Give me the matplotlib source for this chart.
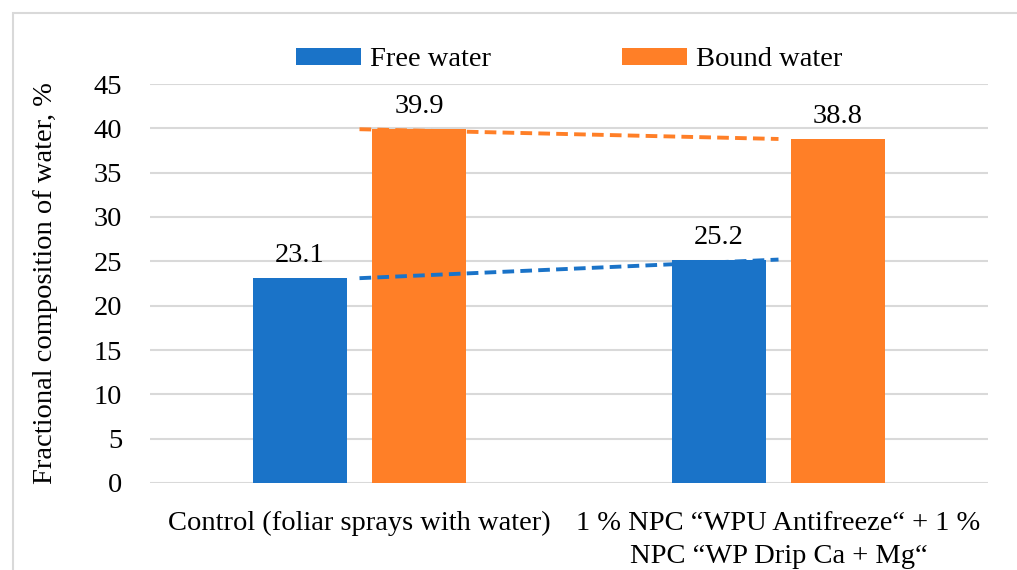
import numpy as np
import matplotlib.pyplot as plt
from matplotlib.patches import Rectangle

categories = ["Control (foliar sprays with water)",
              "1 % NPC \u201cWPU Antifreeze\u201c + 1 %\nNPC \u201cWP Drip Ca + Mg\u201c"]
free_water = [23.1, 25.2]
bound_water = [39.9, 38.8]
yticks = [0, 5, 10, 15, 20, 25, 30, 35, 40, 45]

blue = "#1a73c8"
orange = "#ff7f27"
grid_c = "#d9d9d9"
fs = 20.5

plt.rcParams['font.family'] = ['Liberation Serif', 'DejaVu Serif']

fig = plt.figure(figsize=(10.17, 5.70), dpi=100)
ax = fig.add_axes([150/1017, 1 - 483/570, 838/1017, 399/570])

x = np.arange(len(categories))
w = 0.224
off = 0.142
b1 = ax.bar(x - off, free_water, w, color=blue, label="Free water", zorder=3)
b2 = ax.bar(x + off, bound_water, w, color=orange, label="Bound water", zorder=3)

for bars, vals in ((b1, free_water), (b2, bound_water)):
    for r, v in zip(bars, vals):
        ax.text(r.get_x() + r.get_width() / 2, v + 1.1, f"{v}",
                ha="center", va="bottom", fontsize=fs)

# linear trendlines through category centres
for vals, c in ((free_water, blue), (bound_water, orange)):
    k, b = np.polyfit(x, vals, 1)
    ax.plot(x, k * x + b, color=c, lw=2.8, ls=(0, (3, 1.6)), zorder=4)

ax.set_xlim(-0.5, 1.5)
ax.set_ylim(0, 45)
ax.set_yticks(yticks)
ax.set_xticks(x)
ax.set_xticklabels(categories, fontsize=fs, linespacing=1.45)
ax.tick_params(axis="both", length=0, labelsize=fs)
ax.tick_params(axis="x", pad=20)
ax.tick_params(axis="y", pad=20)
ax.grid(axis="y", color=grid_c, lw=1.5, zorder=0)
for s in ax.spines.values():
    s.set_visible(False)
ax.set_ylabel("Fractional composition of water, %", fontsize=fs, labelpad=26)

ax.legend(loc="center", bbox_to_anchor=(0.5, 1 + 24/399), ncol=2, frameon=False,
          fontsize=fs, handlelength=2.3, handleheight=0.56, columnspacing=4.6,
          handletextpad=0.3)

fig.patches.append(Rectangle((13/1017, -0.1), 1.2, 1 - 13/570 + 0.1,
                             transform=fig.transFigure, fill=False,
                             edgecolor=grid_c, lw=1.5))

fig.savefig("out.png", dpi=100)
